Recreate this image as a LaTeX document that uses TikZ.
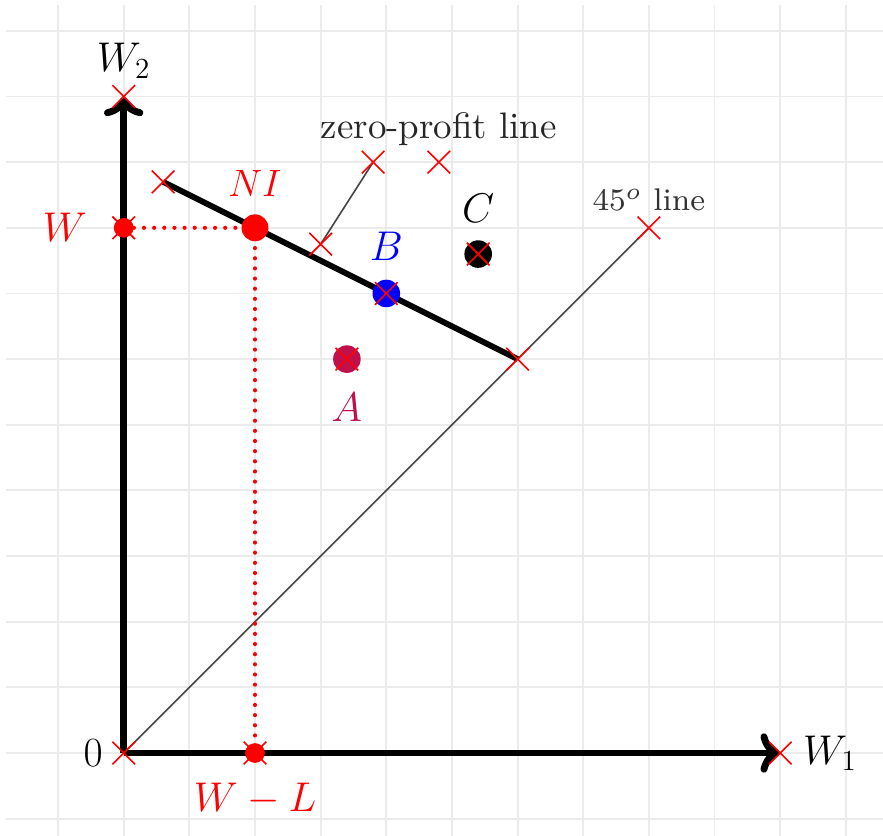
\RequirePackage{fix-cm}
\documentclass[tikz,border=0pt]{standalone}
\usepackage{amsmath}
\usepackage{xcolor}
\usepackage{tikz}
\usetikzlibrary{positioning, arrows.meta, shapes.misc, backgrounds}
\definecolor{gridgray}{HTML}{EBEBEB}
\definecolor{guidegray}{HTML}{444444}
\definecolor{pointA}{HTML}{C0104C}
\tikzset{
  crossmark/.style={cross out, draw=red, line width=0.7pt, minimum size=3.2mm, inner sep=0pt},
  bigdot/.style={circle, inner sep=0pt, minimum size=4.2mm},
  smalldot/.style={circle, fill=red, inner sep=0pt, minimum size=3mm},
  axisline/.style={-{To[length=3mm, width=6mm]}, line width=3pt},
  budget/.style={line width=2.5pt},
  guide/.style={draw=guidegray, line width=0.7pt},
  dropline/.style={draw=red, line width=1.8pt, line cap=round, dash pattern=on 0pt off 4.4pt},
  mathlbl/.style={font=\fontsize{18}{22}\selectfont, inner sep=0pt},
  notelbl/.style={inner sep=0pt},
}

\begin{document}
\begin{tikzpicture}
  \useasboundingbox (-1.884,-1.249) rectangle (11.566,11.47);

  % Marked points
  \node[crossmark] (O) at (0,0) {};
  \node[crossmark] (xend) at (10,0) {};
  \node[crossmark] (yend) at (0,10) {};
  \node[crossmark] (Wpt) at (0,8) {};
  \node[crossmark] (WLpt) at (2,0) {};
  \node[crossmark] (zpstart) at (0.6,8.7) {};
  \node[crossmark] (zpend) at (6,6) {};
  \node[crossmark] (hook) at (3,7.75) {};
  \node[crossmark] (tagpt) at (3.8,9) {};
  \node[crossmark] (tagtext) at (4.8,9) {};
  \node[crossmark] (diag) at (8,8) {};

  % Dots
  \node[smalldot] (Wdot) at (Wpt) {};
  \node[smalldot] (WLdot) at (WLpt) {};
  \node[bigdot, fill=red, minimum size=4.1mm] (NI) at (2,8) {};
  \node[bigdot, fill=pointA] (A) at (3.4,6) {};
  \node[crossmark] (Ax) at (A) {};
  \node[bigdot, fill=blue] (B) at (4,7) {};
  \node[crossmark] (Bx) at (B) {};
  \node[bigdot, fill=black] (C) at (5.4,7.6) {};
  \node[crossmark] (Cx) at (C) {};

  % Labels
  \node[mathlbl, left=1.4mm of O] {$0$};
  \node[mathlbl, right=1.7mm of xend] {$W_1$};
  \node[mathlbl, above=1mm of yend] {$W_2$};
  \node[mathlbl, red, left=3.8mm of Wpt] {$W$};
  \node[mathlbl, red, below=2.8mm of WLpt] {$W-L$};
  \node[mathlbl, red, font=\fontsize{16.5}{20}\selectfont, above=2.6mm of NI] {$NI$};
  \node[mathlbl, pointA, below=3.4mm of Ax] {$A$};
  \node[mathlbl, blue, above=3.2mm of Bx] {$B$};
  \node[mathlbl, above=3mm of Cx] {$C$};
  \node[notelbl, black!85, font=\fontsize{10}{12}\selectfont, scale=1.6, above=0.7mm of tagtext] {zero-profit line};
  \node[notelbl, black!80, font=\fontsize{8}{10}\selectfont, scale=1.7, above=0.7mm of diag] {$45^o$ line};

  % Lines (behind the marks)
  \begin{pgfonlayer}{background}
    \draw[gridgray, line width=0.8pt] (-1.79,-1.3) grid (11.6,11.39);
    \draw[axisline] (O.center) -- (xend.center);
    \draw[axisline] (O.center) -- (yend.center);
    \draw[guide] (O.center) -- (diag.center);
    \draw[guide] (tagpt.center) -- (hook.center);
    \draw[budget] (zpstart.center) -- (zpend.center);
    \draw[dropline] (Wpt.center) -- (NI.center);
    \draw[dropline] (NI.center) -- (WLpt.center);
  \end{pgfonlayer}
\end{tikzpicture}
\end{document}
